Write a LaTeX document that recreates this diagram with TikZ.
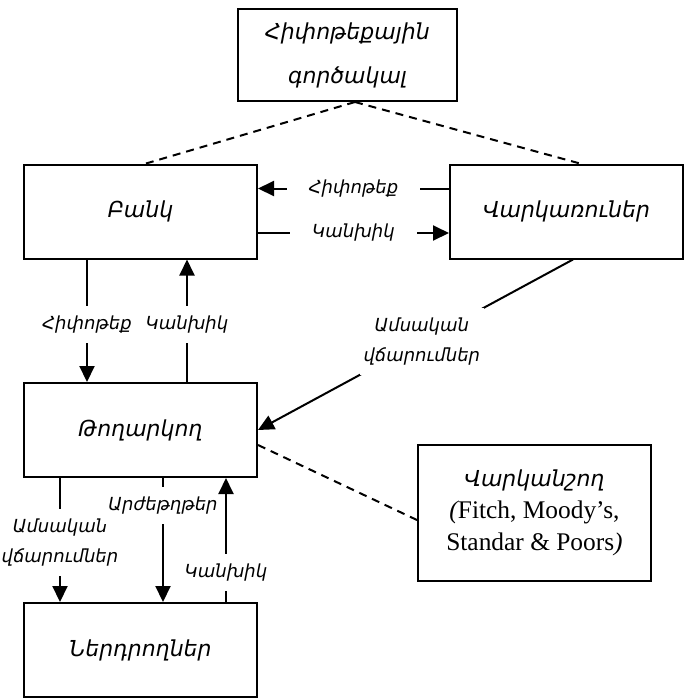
\documentclass[tikz,border=0pt]{standalone}
\usepackage{fontspec}
\setmainfont{Liberation Serif}
\newfontfamily\armfont{DejaVu Sans}
\usetikzlibrary{arrows.meta}
\tikzset{
	box/.style={draw, line width=1pt, minimum width=116.5pt, minimum height=47pt, inner sep=0pt, align=center, font=\armfont\itshape\fontsize{11}{22}\selectfont},
	vlbl/.style={fill=white, inner xsep=2pt, inner ysep=5pt, align=center, font=\armfont\itshape\fontsize{9}{15}\selectfont},
	hlbl/.style={vlbl, inner xsep=11pt, inner ysep=2pt},
	link/.style={line width=1pt, -{Triangle[length=8pt,width=7.5pt]}},
	dashline/.style={line width=1pt, dash pattern=on 4pt off 3pt}
}

\begin{document}
\begin{tikzpicture}[x=0.5pt, y=-0.5pt]
		%%%%% START %%%%%
		\useasboundingbox (0, 0) rectangle (684, 698);
		
		\node[box, minimum width=109.5pt, minimum height=46pt] (agent) at (347.5, 55) {Հիփոթեքային\\գործակալ};
		\node[box] (bank) at (140.5, 211.5) {Բանկ};
		\node[box] (borrowers) at (566.5, 211.5) {Վարկառուներ};
		\node[box] (issuer) at (140.5, 430) {Թողարկող};
		\node[box] (investors) at (140.5, 650) {Ներդրողներ};
		\node[box, minimum height=68pt, font=\rmfamily\fontsize{12.7}{16}\selectfont] (rating) at (534.5, 513)
			{{\armfont\itshape\fontsize{11}{16}\selectfont Վարկանշող}\\{\itshape(}Fitch, Moody’s,\\Standar \& Poors{\itshape)}};
		
		% agent
		\draw[dashline] ([xshift=3.75pt]agent.south) -- ([xshift=2.75pt]bank.north);
		\draw[dashline] ([xshift=3.75pt]agent.south) -- ([xshift=6.75pt]borrowers.north);
		
		% bank - borrowers
		\draw[link] ([yshift=11.5pt]borrowers.west) -- node[hlbl] {Հիփոթեք} ([yshift=11.5pt]bank.east);
		\draw[link] ([yshift=-10.75pt]bank.east) -- node[hlbl] {Կանխիկ} ([yshift=-10.75pt]borrowers.west);
		
		% bank - issuer
		\draw[link] ([xshift=-26.75pt]bank.south) -- node[vlbl, pos=0.53] {Հիփոթեք} ([xshift=-26.75pt]issuer.north);
		\draw[link] ([xshift=23.25pt]issuer.north) -- node[vlbl, pos=0.47] {Կանխիկ} ([xshift=23.25pt]bank.south);
		
		% borrowers - issuer
		\draw[link] ([xshift=3.25pt]borrowers.south) -- node[vlbl, pos=0.48] {Ամսական\\վճարումներ} (issuer.east);
		
		% issuer - investors
		\draw[link] ([xshift=-40.25pt]issuer.south) -- node[vlbl, pos=0.52] {Ամսական\\վճարումներ} ([xshift=-40.25pt]investors.north);
		\draw[link] ([xshift=11.25pt]issuer.south) -- node[vlbl, pos=0.22] {Արժեթղթեր} ([xshift=11.25pt]investors.north);
		\draw[link] ([xshift=42.75pt]investors.north) -- node[vlbl, pos=0.24] {Կանխիկ} ([xshift=42.75pt]issuer.south);
		
		% rating
		\draw[dashline] ([yshift=-7.5pt]issuer.east) -- ([yshift=-3.5pt]rating.west);
		
		%%%%% END %%%%%
\end{tikzpicture}
\end{document}
